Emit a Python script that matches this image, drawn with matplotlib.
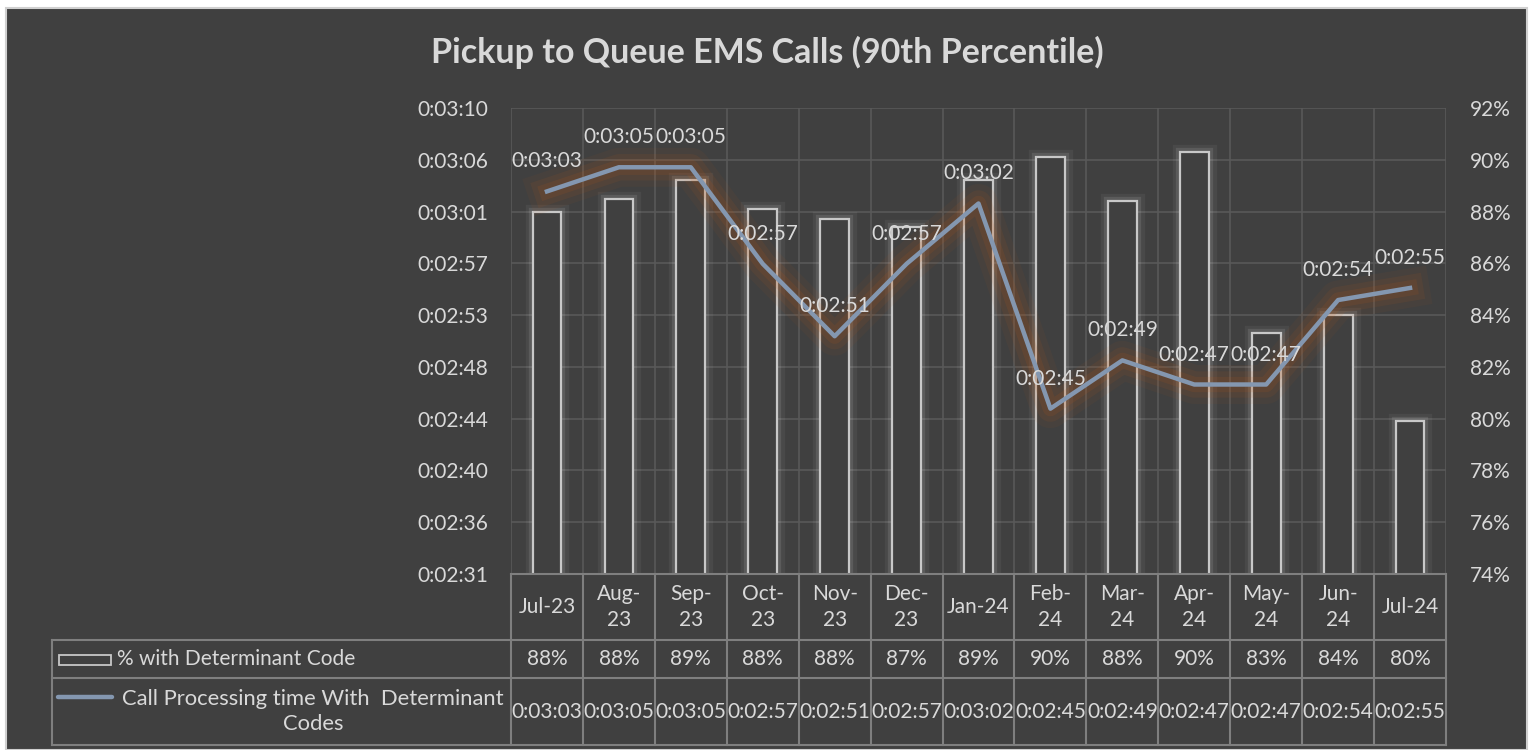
import matplotlib
matplotlib.use("Agg")
import matplotlib.pyplot as plt
import matplotlib.patheffects as pe
from matplotlib.patches import Rectangle
from matplotlib.lines import Line2D
from matplotlib.transforms import blended_transform_factory
from matplotlib.ticker import FuncFormatter
import numpy as np

plt.rcParams['font.family'] = ['Lato', 'DejaVu Sans']

months = ['Jul-23', 'Aug-23', 'Sep-23', 'Oct-23', 'Nov-23', 'Dec-23', 'Jan-24',
          'Feb-24', 'Mar-24', 'Apr-24', 'May-24', 'Jun-24', 'Jul-24']
month_labels = ['Jul-23', 'Aug-\n23', 'Sep-\n23', 'Oct-\n23', 'Nov-\n23', 'Dec-\n23', 'Jan-24',
                'Feb-\n24', 'Mar-\n24', 'Apr-\n24', 'May-\n24', 'Jun-\n24', 'Jul-24']
pct_code = [88.0, 88.5, 89.2, 88.1, 87.7, 87.4, 89.2, 90.1, 88.4, 90.3, 83.3, 84.0, 79.9]
# call processing time in seconds
call_secs = [183, 185, 185, 177, 171, 177, 182, 165, 169, 167, 167, 174, 175]

pct_ticks = [74, 76, 78, 80, 82, 84, 86, 88, 90, 92]
time_min = 151.3
time_step = 4.29

BG = '#404040'
TXT = '#d9d9d9'
GRID = '#595959'
TABLE = '#7f7f7f'
LINE = '#8497b0'
GLOW = '#c55a11'
BAR_EDGE = '#c8c8c8'
FS = 15


def hms(v, pos=None):
    s = int(round(v))
    return '%d:%02d:%02d' % (s // 3600, (s % 3600) // 60, s % 60)


W, H = 1530, 750
fig = plt.figure(figsize=(W / 100, H / 100), dpi=100, facecolor='white')


def fx(px):
    return px / W


def fy(py):
    return 1 - py / H


fig.add_artist(Rectangle((fx(6), 0), fx(1527) - fx(6), fy(8), transform=fig.transFigure,
                         facecolor=BG, edgecolor='#d0d0d0', linewidth=1.5, zorder=-10))

fig.text(fx(767), fy(52), 'Pickup to Queue EMS Calls (90th Percentile)', color=TXT,
         fontsize=24.5, fontweight='bold', ha='center', va='center')

ax = fig.add_axes([fx(511), fy(574), fx(1446) - fx(511), fy(108) - fy(574)])
ax.set_facecolor(BG)
x = np.arange(len(months))

ax.bar(x, pct_code, width=0.4, facecolor=BG, edgecolor=BAR_EDGE, linewidth=1.6, zorder=3,
       path_effects=[pe.Stroke(linewidth=11, foreground='#e0e0e0', alpha=0.06),
                     pe.Stroke(linewidth=6, foreground='#e0e0e0', alpha=0.12),
                     pe.Normal()])
ax.set_ylim(74, 92)
ax.set_xlim(-0.5, len(months) - 0.5)
ax.set_xticks([])
ax.set_xticks(np.arange(-0.5, len(months), 1), minor=True)
ax.tick_params(axis='x', which='both', length=0, labelbottom=False)
ax.set_axisbelow(True)
ax.grid(True, axis='y', color=GRID, linewidth=1.2)
ax.grid(True, axis='x', which='minor', color=GRID, linewidth=1.2)
for s in ax.spines.values():
    s.set_visible(False)

ax2 = ax.twinx()
ax2.plot(x, call_secs, color=LINE, linewidth=3.2, zorder=4,
         path_effects=[pe.Stroke(linewidth=28, foreground=GLOW, alpha=0.06),
                       pe.Stroke(linewidth=19, foreground=GLOW, alpha=0.09),
                       pe.Stroke(linewidth=11, foreground=GLOW, alpha=0.12),
                       pe.Normal()])
ax2.set_ylim(time_min, time_min + 9 * time_step)
ax2.set_yticks([time_min + k * time_step for k in range(10)])
ax2.yaxis.set_major_formatter(FuncFormatter(hms))
ax2.yaxis.tick_left()
ax2.tick_params(axis='y', length=0, pad=16.5, labelsize=FS, labelcolor=TXT)
for s in ax2.spines.values():
    s.set_visible(False)

# percentage axis on the right (set after twinx, which resets it)
ax.yaxis.tick_right()
ax.set_yticks(pct_ticks)
ax.set_yticklabels(['%d%%' % t for t in pct_ticks])
ax.tick_params(axis='y', length=0, pad=17, labelsize=FS, labelcolor=TXT)

for xi, v in zip(x, call_secs):
    ax2.annotate(hms(v), (xi, v), xytext=(0, 30), textcoords='offset pixels',
                 ha='center', va='center', color=TXT, fontsize=FS, zorder=5)

# data table under the chart
tr = blended_transform_factory(ax.transData, fig.transFigure)
n = len(months)
left_edge = fx(52)
rows_y = [fy(574), fy(640), fy(678), fy(745)]


def fline(xs, ys, transform):
    fig.add_artist(Line2D(xs, ys, transform=transform, color=TABLE, linewidth=1.5))


fline([-0.5, n - 0.5], [rows_y[0], rows_y[0]], tr)
for yy in rows_y[1:]:
    fline([left_edge, ax.get_position().x1], [yy, yy], fig.transFigure)
fline([left_edge, left_edge], [rows_y[1], rows_y[3]], fig.transFigure)
for k in range(n + 1):
    fline([k - 0.5, k - 0.5], [rows_y[0], rows_y[3]], tr)

for xi, lab, p, v in zip(x, month_labels, pct_code, call_secs):
    fig.text(xi, (rows_y[0] + rows_y[1]) / 2, lab, transform=tr, ha='center', va='center',
             color=TXT, fontsize=FS, linespacing=1.4)
    fig.text(xi, (rows_y[1] + rows_y[2]) / 2, '%d%%' % round(p), transform=tr, ha='center',
             va='center', color=TXT, fontsize=FS)
    fig.text(xi, (rows_y[2] + rows_y[3]) / 2, hms(v), transform=tr, ha='center',
             va='center', color=TXT, fontsize=FS)

# legend keys in the table
fig.add_artist(Rectangle((fx(59), fy(665)), fx(111) - fx(59), fy(655) - fy(665),
                         transform=fig.transFigure, facecolor='none', edgecolor=BAR_EDGE,
                         linewidth=1.3))
fig.text(fx(117), (rows_y[1] + rows_y[2]) / 2, '% with Determinant Code', ha='left',
         va='center', color=TXT, fontsize=FS)
fig.add_artist(Line2D([fx(58), fx(112)], [fy(697), fy(697)], transform=fig.transFigure,
                      color=LINE, linewidth=3.2, solid_capstyle='round'))
fig.text(fx(313), (rows_y[2] + rows_y[3]) / 2, 'Call Processing time With  Determinant\nCodes',
         ha='center', va='center', multialignment='center', color=TXT, fontsize=15.8,
         linespacing=1.35)

fig.savefig('out.png', dpi=100, facecolor='white')
